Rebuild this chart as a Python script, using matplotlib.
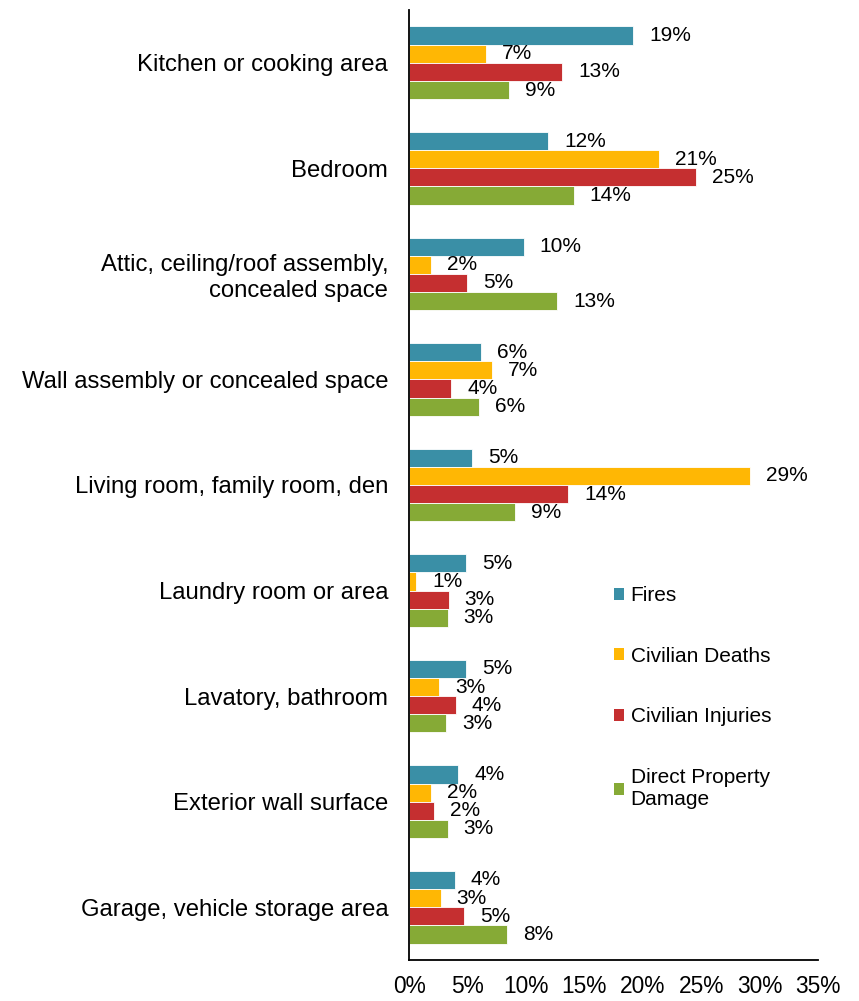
import numpy as np
import matplotlib.pyplot as plt
from matplotlib.patches import Patch

plt.rcParams['font.family'] = ['Liberation Sans', 'DejaVu Sans']

categories = [
    "Kitchen or cooking area",
    "Bedroom",
    "Attic, ceiling/roof assembly,\nconcealed space",
    "Wall assembly or concealed space",
    "Living room, family room, den",
    "Laundry room or area",
    "Lavatory, bathroom",
    "Exterior wall surface",
    "Garage, vehicle storage area",
]
series_names = ["Fires", "Civilian Deaths", "Civilian Injuries", "Direct Property\nDamage"]
fires = [19.2, 11.9, 9.8, 6.2, 5.4, 4.9, 4.9, 4.2, 3.9]
deaths = [6.6, 21.4, 1.9, 7.1, 29.2, 0.6, 2.6, 1.9, 2.7]
injuries = [13.1, 24.6, 5.0, 3.6, 13.6, 3.4, 4.0, 2.1, 4.7]
damage = [8.6, 14.1, 12.7, 6.0, 9.1, 3.3, 3.2, 3.3, 8.4]
colors = ["#3A8FA6", "#FFB704", "#C52F30", "#86AA36"]
xticks = [0, 5, 10, 15, 20, 25, 30, 35]
fs = 17.2
fs_small = 15.0

fig = plt.figure(figsize=(8.59, 10.01), dpi=100)
ax = fig.add_axes([409 / 859, 1 - 960 / 1001, 409 / 859, 950 / 1001])

y = np.arange(len(categories))
h = 0.172
for i, vals in enumerate([fires, deaths, injuries, damage]):
    pos = y + (i - 1.5) * h
    ax.barh(pos, vals, height=h, color=colors[i], edgecolor="white", linewidth=0.6)
    for p, v in zip(pos, vals):
        ax.annotate(f"{v:.0f}%", (v, p), xytext=(16, 0), textcoords="offset pixels",
                    ha="left", va="center", fontsize=fs_small)

ax.set_xlim(0, 35)
ax.set_ylim(len(categories) - 0.5, -0.5)
ax.set_yticks(y)
ax.set_yticklabels(categories, fontsize=fs)
ax.set_xticks(xticks)
ax.set_xticklabels([f"{t}%" for t in xticks], fontsize=16.4)
ax.tick_params(axis="y", length=0, pad=15)
ax.tick_params(axis="x", length=0, pad=11)
for s in ["top", "right"]:
    ax.spines[s].set_visible(False)
for s in ["left", "bottom"]:
    ax.spines[s].set_linewidth(1.3)

handles = [Patch(facecolor=c, edgecolor="none") for c in colors]
ax.legend(handles, series_names, loc="upper left", bbox_to_anchor=(614 / 859, 1 - 586 / 1001),
          bbox_transform=fig.transFigure, frameon=False, fontsize=fs_small,
          handlelength=0.5, handleheight=0.5, handletextpad=0.3, labelspacing=2.0,
          borderpad=0, borderaxespad=0)

fig.savefig("out.png", dpi=100)
